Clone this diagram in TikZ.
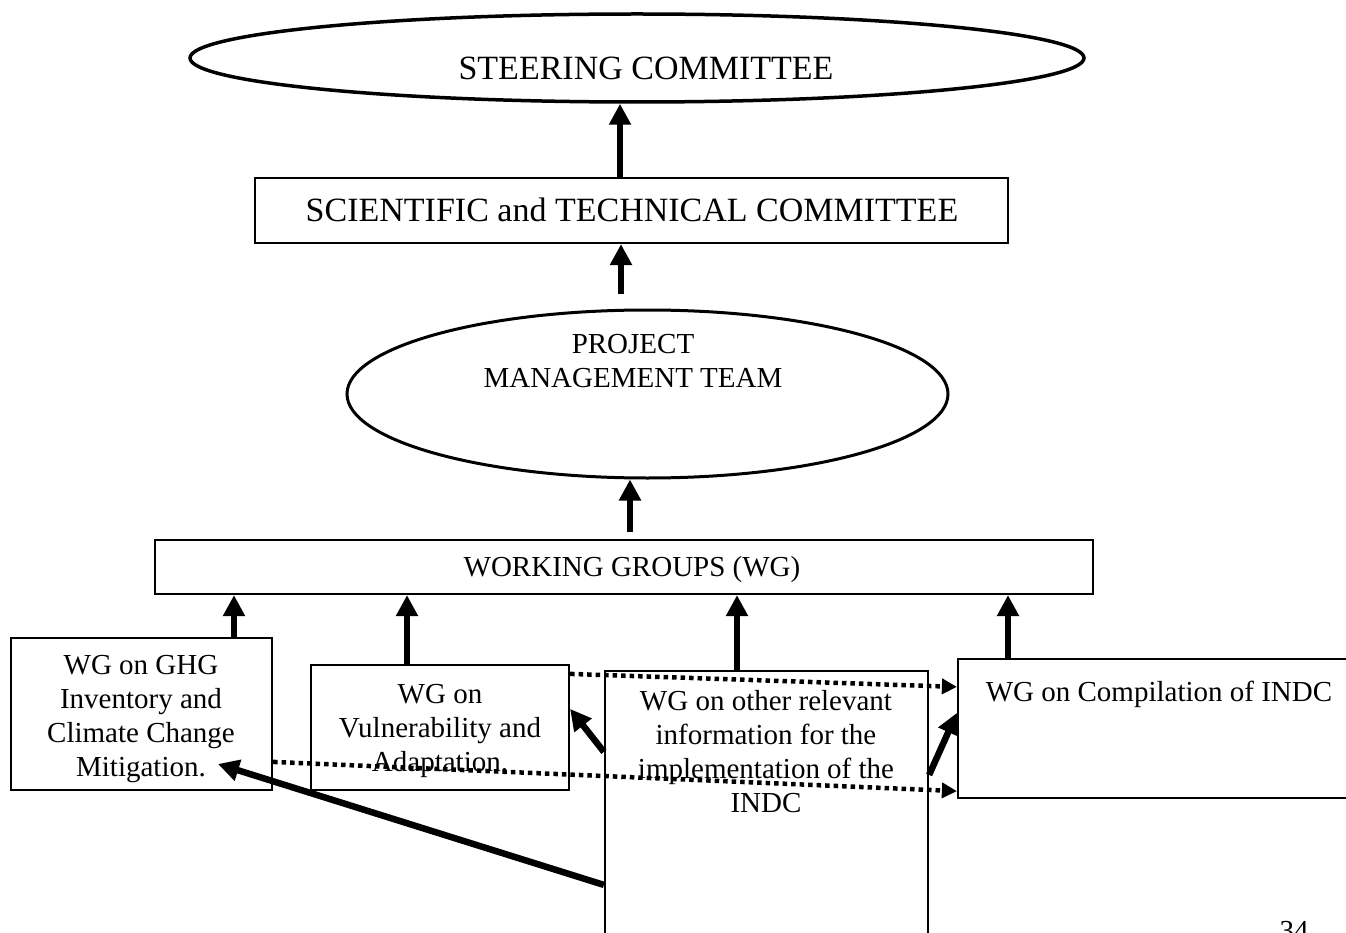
\documentclass[tikz,border=0pt]{standalone}
\usepackage{fontspec}
\setmainfont{Liberation Serif}
\usetikzlibrary{shapes.geometric,arrows.meta}
\begin{document}
\begin{tikzpicture}[x=1pt,y=-1pt,
  bigtxt/.style={font=\fontsize{34}{39}\selectfont, inner sep=0pt},
  txt/.style={font=\fontsize{29}{34}\selectfont, align=center, inner sep=0pt},
  oval/.style={draw, ellipse, line width=3pt, inner sep=0pt},
  box/.style={draw, line width=2.2pt, inner sep=0pt},
  arr/.style={line width=6.5pt, -{Triangle[length=21pt,width=21pt]}},
  dotarr/.style={line width=4.5pt, dash pattern=on 4.5pt off 4pt,
    -{Triangle[length=15pt,width=15pt]}},
]
\useasboundingbox (0,0) rectangle (1346,933);
\clip (0,0) rectangle (1346,933);

% upper levels
\node[oval, line width=3.5pt, minimum width=894pt, minimum height=88pt] (steer) at (637,58) {};
\node[bigtxt, anchor=base] (steertxt) at (646,79.5) {STEERING COMMITTEE};

\node[box, minimum width=753pt, minimum height=65pt] (sci) at (631.5,210.5) {};
\node[bigtxt, anchor=base] (scitxt) at (632,222) {SCIENTIFIC and TECHNICAL COMMITTEE};

\node[oval, minimum width=601pt, minimum height=168pt] (pmt) at (647.5,394) {};
\node[txt, anchor=north] (pmttxt) at (633,334.5) {PROJECT\\MANAGEMENT TEAM};

\node[box, minimum width=938pt, minimum height=54pt] (wg) at (624,567) {};
\node[txt, anchor=base] (wgtxt) at (632,576.5) {WORKING GROUPS (WG)};

% working groups
\node[box, minimum width=261pt, minimum height=152pt] (ghg) at (141.5,714) {};
\node[txt, anchor=north] (ghgtxt) at (141,655.5) {WG on GHG\\Inventory and\\Climate Change\\Mitigation.};

\node[box, minimum width=258pt, minimum height=125pt] (va) at (440,727.5) {};
\node[txt, anchor=north] (vatxt) at (440,684.5) {WG on\\Vulnerability and\\Adaptation.};

\node[box, minimum width=323pt, minimum height=300pt] (oth) at (766.5,821) {};
\node[txt, anchor=north] (othtxt) at (766,690) {WG on other relevant\\information for the\\implementation of the\\INDC};

\node[box, minimum width=430pt, minimum height=139pt] (comp) at (1173,728.5) {};
\node[txt, anchor=north] (comptxt) at (1159,680.5) {WG on Compilation of INDC};

\node[txt, anchor=base] (pagenum) at (1294,940) {34};

% column positions of the vertical connectors
\coordinate (xs) at (620,0);
\coordinate (x1) at (234,0);
\coordinate (x2) at (407,0);
\coordinate (x3) at (737,0);
\coordinate (x4) at (1008,0);
\coordinate (pmtout) at (621,294);
\coordinate (pmtin) at (630,532);
\coordinate (mitig) at (218,764);

% upward reporting line
\draw[arr] (xs |- sci.north) -- (xs |- steer.south);
\draw[arr] (pmtout) -- (pmtout |- sci.south);
\draw[arr] (pmtin) -- (pmtin |- pmt.south);
\draw[arr] (x1 |- ghg.north) -- (x1 |- wg.south);
\draw[arr] (x2 |- va.north) -- (x2 |- wg.south);
\draw[arr] (x3 |- oth.north) -- (x3 |- wg.south);
\draw[arr] (x4 |- comp.north) -- (x4 |- wg.south);

% exchanges between working groups
\draw[dotarr] ([yshift=-10pt]va.north east) -- ([yshift=-29pt]comp.north west);
\draw[dotarr] ([yshift=-125pt]ghg.north east) -- ([yshift=8pt]comp.south west);
\draw[arr] ([yshift=-82pt]oth.north west) -- ([yshift=-45pt]va.north east);
\draw[arr] ([yshift=-105pt]oth.north east) -- ([yshift=-55pt]comp.north west);
\draw[arr] ([yshift=-215pt]oth.north west) -- (mitig);
\end{tikzpicture}
\end{document}
